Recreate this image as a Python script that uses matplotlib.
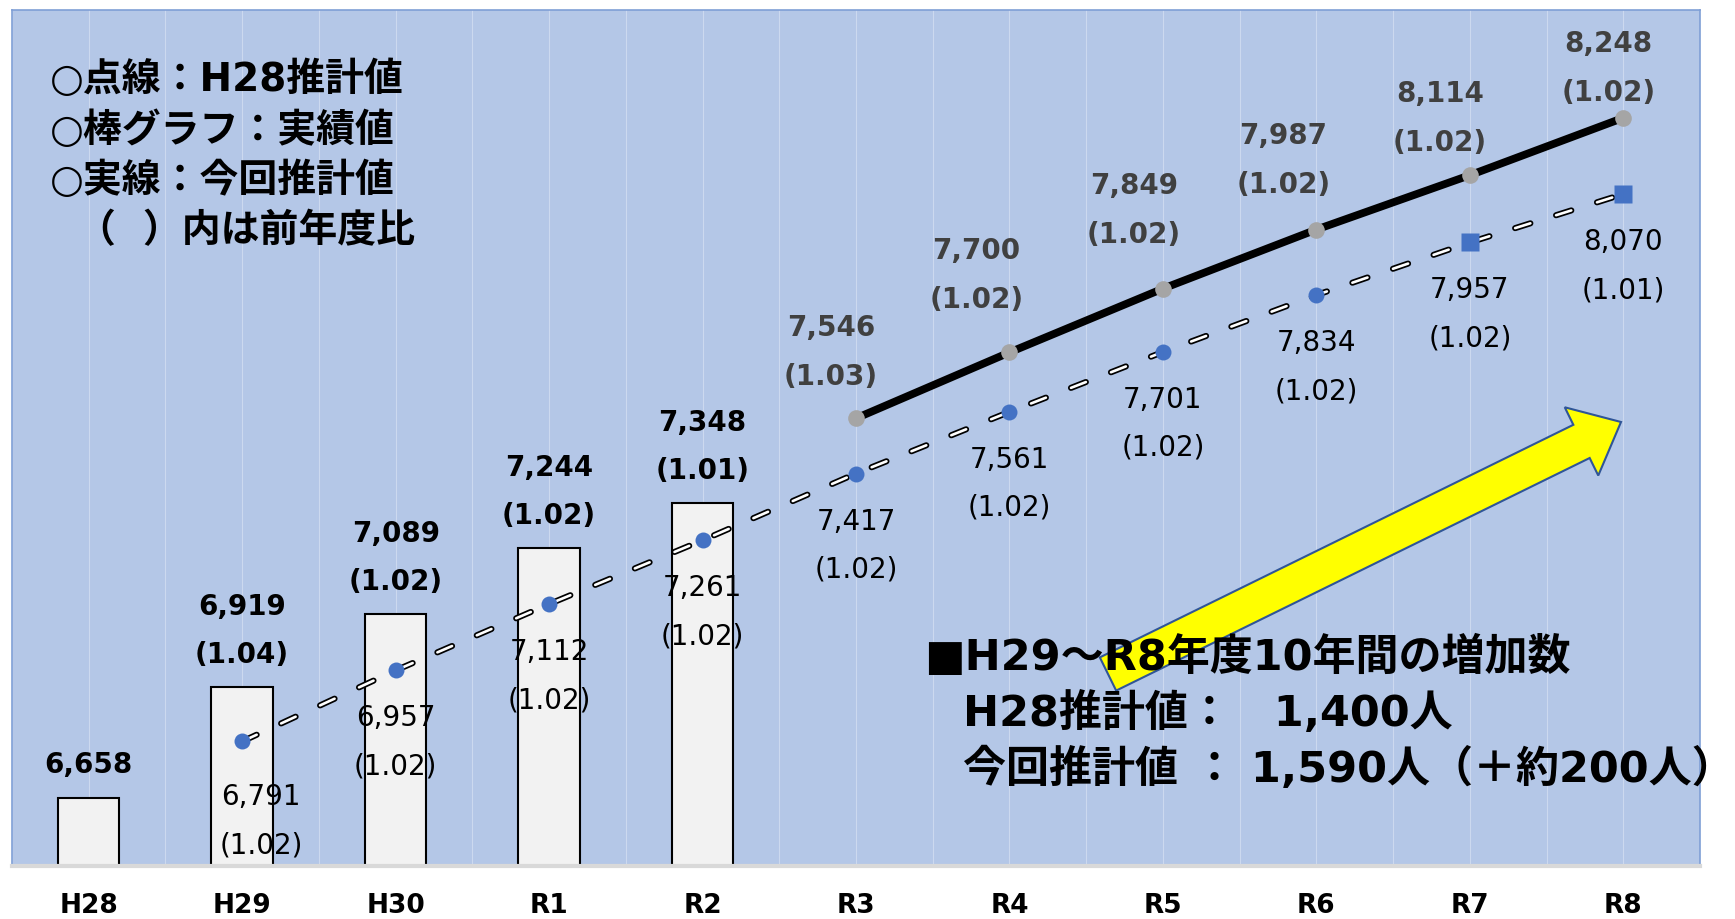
import numpy as np
import matplotlib
matplotlib.use("Agg")
import matplotlib.pyplot as plt
from matplotlib.patches import FancyArrow

plt.rcParams['font.family'] = ['DejaVu Sans', 'Noto Sans CJK JP']
plt.rcParams['lines.scale_dashes'] = False

years = ['H28', 'H29', 'H30', 'R1', 'R2', 'R3', 'R4', 'R5', 'R6', 'R7', 'R8']

# actual values (bars), H28 - R2
actual = [6658, 6919, 7089, 7244, 7348]
actual_ratio = [None, '1.04', '1.02', '1.02', '1.01']

# H28 estimate (dashed), H29 - R8
est_h28 = [6791, 6957, 7112, 7261, 7417, 7561, 7701, 7834, 7957, 8070]
est_h28_ratio = ['1.02', '1.02', '1.02', '1.02', '1.02', '1.02', '1.02', '1.02', '1.02', '1.01']

# new estimate (solid), R3 - R8
est_new = [7546, 7700, 7849, 7987, 8114, 8248]
est_new_ratio = ['1.03', '1.02', '1.02', '1.02', '1.02', '1.02']

W, H = 1735, 920
fig = plt.figure(figsize=(W / 100, H / 100), dpi=100, facecolor='white')
ax = fig.add_axes([12 / W, 53 / H, 1688 / W, 856 / H])
ax.set_facecolor('#B4C7E7')

x = np.arange(len(years))
x_bar = x[:len(actual)]
x_h28 = x[1:1 + len(est_h28)]
x_new = x[len(years) - len(est_new):]

# bars
ax.bar(x_bar, np.array(actual) - 6500, bottom=6500, width=0.4,
       color='#F2F2F2', edgecolor='black', linewidth=1.5, zorder=2)

# dashed line: black outline + white core
dash = (0, (11.5, 19.4))
ax.plot(x_h28, est_h28, color='black', lw=4.4, linestyle=dash,
        dash_capstyle='round', zorder=3)
ax.plot(x_h28, est_h28, color='white', lw=1.9, linestyle=dash,
        dash_capstyle='round', zorder=3.1)
ax.plot(x_h28[:-2], est_h28[:-2], 'o', color='#4472C4', ms=11.5, mec='none', zorder=4)
ax.plot(x_h28[-2:], est_h28[-2:], 's', color='#4472C4', ms=13, mec='none', zorder=4)

# solid line
ax.plot(x_new, est_new, color='black', lw=5.6, zorder=3,
        marker='o', ms=12, mfc='#A5A5A5', mec='none')

lab = dict(ha='center', va='center', textcoords='offset pixels', fontsize=20)

for xi, v, r in zip(x_bar, actual, actual_ratio):
    if r is None:
        ax.annotate(f'{v:,}', (xi, v), xytext=(0, 34), fontweight='bold', **lab)
    else:
        ax.annotate(f'{v:,}', (xi, v), xytext=(0, 81), fontweight='bold', **lab)
        ax.annotate(f'({r})', (xi, v), xytext=(0, 33), fontweight='bold', **lab)

for i, (xi, v, r) in enumerate(zip(x_h28, est_h28, est_h28_ratio)):
    dx, dy = (19, 8) if i == 0 else (0, 0)
    ax.annotate(f'{v:,}', (xi, v), xytext=(dx, -47 - dy), **lab)
    ax.annotate(f'({r})', (xi, v), xytext=(dx, -95 - dy), **lab)

# label placement above the solid line (pixels)
new_dx = [-25, -33, -29, -33, -30, -15]
new_dy = [91, 102, 104, 95, 82, 75]
for xi, v, r, ox, oy in zip(x_new, est_new, est_new_ratio, new_dx, new_dy):
    ax.annotate(f'{v:,}', (xi, v), xytext=(ox, oy), color='#404040', fontweight='bold', **lab)
    ax.annotate(f'({r})', (xi, v), xytext=(ox, oy - 49), color='#404040', fontweight='bold', **lab)

ax.set_xlim(-0.5, 10.5)
ax.set_ylim(6500, 8500)
ax.set_yticks([])
ax.set_xticks(x)
ax.set_xticklabels(years, fontsize=19, fontweight='bold')
ax.set_xticks(np.arange(-0.5, 10.6, 0.5), minor=True)
ax.tick_params(axis='x', which='both', length=0, pad=19)
ax.grid(axis='x', which='both', color='#CCD9EF', lw=0.8)
ax.set_axisbelow(True)
for s in ['top', 'left', 'right']:
    ax.spines[s].set_color('#7F9FD6')
    ax.spines[s].set_linewidth(1.2)
ax.spines['bottom'].set_color('#D9D9D9')
ax.spines['bottom'].set_linewidth(3)

# notes, top left
notes = ['○点線：H28推計値', '○棒グラフ：実績値', '○実線：今回推計値', '  （  ）内は前年度比']
for i, t in enumerate(notes):
    fig.text(50 / W, 1 - (80 + 50.5 * i) / H, t, fontsize=28, fontweight='bold',
             va='center', ha='left')

# arrow
arrow = FancyArrow(11.08, 2.45, 5.13, 2.52, width=0.37, head_width=0.76,
                   head_length=0.44, length_includes_head=True,
                   facecolor='#FFFF00', edgecolor='#2F5597', lw=1.5,
                   transform=fig.dpi_scale_trans, zorder=2)
fig.add_artist(arrow)

# summary, bottom right
fig.text(924 / W, 1 - 658 / H, '■H29～R8年度10年間の増加数', fontsize=31,
         fontweight='bold', va='center', ha='left', zorder=5)
fig.text(963 / W, 1 - 714 / H, 'H28推計値：　1,400人', fontsize=31,
         fontweight='bold', va='center', ha='left', zorder=5)
fig.text(963 / W, 1 - 769 / H, '今回推計値 ： 1,590人（＋約200人）', fontsize=31,
         fontweight='bold', va='center', ha='left', zorder=5)

fig.savefig('out.png', dpi=100, facecolor='white')
